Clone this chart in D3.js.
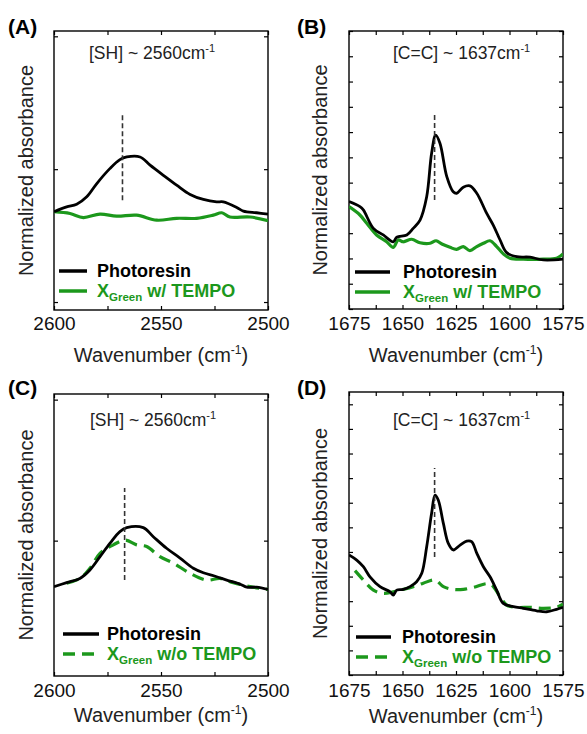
<!DOCTYPE html>
<html>
<head>
<meta charset="utf-8">
<script src="https://cdn.jsdelivr.net/npm/d3@7"></script>
<style>
  body { margin: 0; background: #fff; }
  svg { font-family: Arial, "Liberation Sans", sans-serif; }
</style>
</head>
<body>
<div class="canva"></div>
<script>
// ---- data ----
// (A) SH region, photoresin vs X_Green w/ TEMPO
const wnA_photo = [2600, 2594.1, 2589.4, 2584.7, 2580, 2573.8, 2569.2, 2566, 2559.8, 2555.1, 2548.9, 2542.7, 2536.4, 2530.2, 2524, 2520.9, 2514.6, 2511.5, 2505.3, 2500];
const absA_photo = [0.340, 0.358, 0.368, 0.396, 0.446, 0.503, 0.536, 0.546, 0.546, 0.515, 0.477, 0.440, 0.405, 0.386, 0.377, 0.377, 0.356, 0.342, 0.336, 0.331];
const wnA_green = [2600, 2592.5, 2586.3, 2578.5, 2570.7, 2561.4, 2552, 2542.7, 2533.3, 2525.6, 2521.6, 2517.8, 2508.4, 2500];
const absA_green = [0.340, 0.333, 0.318, 0.331, 0.323, 0.327, 0.308, 0.315, 0.315, 0.327, 0.336, 0.320, 0.320, 0.306];

// (B) C=C region, photoresin vs X_Green w/ TEMPO
const wnB_photo = [1675, 1669.9, 1668.3, 1663.6, 1659, 1654.3, 1652.7, 1648, 1645, 1641.8, 1638.7, 1636.4, 1634.5, 1632.5, 1629.3, 1626.3, 1624.7, 1621.6, 1618.5, 1615.3, 1610.7, 1607.6, 1604.4, 1601.3, 1596.6, 1590.4, 1584.2, 1575];
const absB_photo = [0.425, 0.405, 0.392, 0.319, 0.293, 0.266, 0.284, 0.293, 0.319, 0.352, 0.444, 0.616, 0.688, 0.656, 0.524, 0.464, 0.458, 0.482, 0.487, 0.458, 0.379, 0.332, 0.273, 0.223, 0.207, 0.205, 0.194, 0.197];
const wnB_green = [1675, 1669.9, 1666.7, 1662.1, 1657.4, 1654.3, 1652, 1649.6, 1645.7, 1641.8, 1637.1, 1634.3, 1631.6, 1627.8, 1624.7, 1621.6, 1618.5, 1615.3, 1612.2, 1609.1, 1606, 1602.9, 1599.8, 1593.6, 1584.2, 1578, 1575];
const absB_green = [0.405, 0.372, 0.339, 0.293, 0.266, 0.244, 0.273, 0.266, 0.276, 0.262, 0.260, 0.270, 0.257, 0.244, 0.236, 0.247, 0.231, 0.247, 0.260, 0.270, 0.247, 0.218, 0.201, 0.197, 0.197, 0.201, 0.218];

// (C) SH region, photoresin vs X_Green w/o TEMPO
const wnC_photo = [2600, 2594.1, 2587.9, 2583.2, 2578.5, 2573.8, 2569.2, 2566, 2558.3, 2553.6, 2547.4, 2541.1, 2534.9, 2530.2, 2524, 2519.3, 2513.1, 2509.9, 2505.3, 2500];
const absC_photo = [0.337, 0.351, 0.366, 0.396, 0.443, 0.491, 0.532, 0.546, 0.546, 0.514, 0.473, 0.438, 0.402, 0.386, 0.372, 0.360, 0.346, 0.335, 0.335, 0.327];
const wnC_green = [2594.1, 2587.9, 2583.2, 2578.5, 2572.3, 2566.8, 2561.4, 2556.7, 2550.5, 2544.2, 2536.4, 2528.6, 2522.4, 2516.2, 2508.4, 2500];
const absC_green = [0.349, 0.366, 0.402, 0.455, 0.485, 0.502, 0.485, 0.479, 0.443, 0.420, 0.384, 0.360, 0.366, 0.351, 0.337, 0.327];

// (D) C=C region, photoresin vs X_Green w/o TEMPO
const wnD_photo = [1675, 1671.4, 1668.3, 1665.2, 1660.5, 1655.8, 1654.3, 1652.7, 1649.6, 1646.5, 1643.4, 1641, 1638.7, 1636.4, 1634.8, 1633.3, 1630.9, 1628.6, 1626.3, 1623.1, 1620, 1617.7, 1615.3, 1612.2, 1609.1, 1606, 1602.9, 1598.2, 1593.6, 1587.3, 1582.6, 1578, 1575];
const absD_photo = [0.488, 0.467, 0.440, 0.399, 0.359, 0.338, 0.325, 0.345, 0.348, 0.359, 0.379, 0.413, 0.521, 0.657, 0.731, 0.711, 0.616, 0.535, 0.508, 0.528, 0.544, 0.542, 0.495, 0.440, 0.399, 0.345, 0.291, 0.278, 0.271, 0.261, 0.257, 0.267, 0.275];
const wnD_green = [1672.2, 1668.3, 1663.6, 1659, 1654.3, 1649.6, 1645, 1640.3, 1634.8, 1630.9, 1626.3, 1621.6, 1616.9, 1609.1, 1604.4, 1601.3, 1596.6, 1590.4, 1584.2, 1578, 1575];
const absD_green = [0.424, 0.386, 0.345, 0.332, 0.338, 0.348, 0.359, 0.373, 0.386, 0.359, 0.348, 0.348, 0.356, 0.370, 0.318, 0.284, 0.275, 0.275, 0.271, 0.275, 0.288];

// peak marker (dashed) position and extent
const markerWn = [2568, 1635, 2567, 1635];
const markerAbs = [[0.383, 0.711], [0.431, 0.777], [0.360, 0.687], [0.479, 0.841]];

// text
const panelLabels = ['(A)', '(B)', '(C)', '(D)'];
const peakNames = ['[SH] ~ 2560cm', '[C=C] ~ 1637cm', '[SH] ~ 2560cm', '[C=C] ~ 1637cm'];
const seriesNames = ['Photoresin', 'X', 'Green'];
const greenSuffix = [' w/ TEMPO', ' w/ TEMPO', ' w/o TEMPO', ' w/o TEMPO'];
const shTicks = [2600, 2575, 2550, 2525, 2500];
const shLabels = [2600, 2550, 2500];
const ccTicks = [1675, 1662.5, 1650, 1637.5, 1625, 1612.5, 1600, 1587.5, 1575];
const ccLabels = [1675, 1650, 1625, 1600, 1575];

const GREEN = '#1c981c';

const zip = (xs, ys) => xs.map((x, i) => [x, ys[i]]);

// panel layout (pixels)
const panels = [
  {box: [54, 268, 31, 310], xd: [2600, 2500], yd: [-0.03, 1.02], yt: [0, 0.5, 1], xt: shTicks, xl: shLabels,
   photo: zip(wnA_photo, absA_photo), green: zip(wnA_green, absA_green), dashed: false,
   lab: [8, 34], peak: [89, 59], leg: [59, 87, 97, 271, 291], ytitle: 33, xtitleY: 362, tickY: 330},
  {box: [349, 563, 31, 309], xd: [1675, 1575], yd: [0, 1.1], yt: d3.range(0, 1.11, 0.1), xt: ccTicks, xl: ccLabels,
   photo: zip(wnB_photo, absB_photo), green: zip(wnB_green, absB_green), dashed: false,
   lab: [297, 34], peak: [393, 59], leg: [355, 390, 403, 272, 292], ytitle: 327, xtitleY: 362, tickY: 330},
  {box: [54, 268, 394, 676], xd: [2600, 2500], yd: [0.02, 1.02], yt: [0.5, 1], xt: shTicks, xl: shLabels,
   photo: zip(wnC_photo, absC_photo), green: zip(wnC_green, absC_green), dashed: true,
   lab: [8, 395], peak: [90, 426], leg: [63, 99, 107, 634, 654], ytitle: 33, xtitleY: 722, tickY: 697},
  {box: [349, 563, 392, 675], xd: [1675, 1575], yd: [0, 1.15], yt: d3.range(0, 1.11, 0.1), xt: ccTicks, xl: ccLabels,
   photo: zip(wnD_photo, absD_photo), green: zip(wnD_green, absD_green), dashed: true,
   lab: [297, 395], peak: [393, 426], leg: [356, 391, 402, 637, 657], ytitle: 327, xtitleY: 723, tickY: 697}
];

const svg = d3.select('.canva').append('svg')
  .attr('width', 587)
  .attr('height', 734);

panels.forEach((p, i) => {
  const [x0, x1, y0, y1] = p.box;
  const x = d3.scaleLinear().domain(p.xd).range([x0, x1]);
  const y = d3.scaleLinear().domain(p.yd).range([y1, y0]);
  const g = svg.append('g');

  // clip for curves
  g.append('clipPath').attr('id', 'clip' + i)
    .append('rect').attr('x', x0).attr('y', y0).attr('width', x1 - x0).attr('height', y1 - y0);

  // axes with inward ticks on all four sides
  const fmt = d => p.xl.includes(d) ? d : '';
  g.append('g').attr('transform', `translate(0,${y1})`)
    .call(d3.axisBottom(x).tickValues(p.xt).tickSize(-4).tickPadding(8).tickFormat(fmt))
    .call(a => a.selectAll('text').attr('font-size', 19).attr('fill', '#111').attr('y', p.tickY - y1).attr('dy', 0));
  g.append('g').attr('transform', `translate(0,${y0})`)
    .call(d3.axisTop(x).tickValues(p.xt).tickSize(-4).tickFormat(''));
  g.append('g').attr('transform', `translate(${x0},0)`)
    .call(d3.axisLeft(y).tickValues(p.yt).tickSize(-4).tickFormat(''));
  g.append('g').attr('transform', `translate(${x1},0)`)
    .call(d3.axisRight(y).tickValues(p.yt).tickSize(-4).tickFormat(''));
  g.selectAll('.domain').remove();
  g.selectAll('.tick line').attr('stroke', '#000').attr('stroke-width', 1.2);

  g.append('rect')
    .attr('x', x0).attr('y', y0).attr('width', x1 - x0).attr('height', y1 - y0)
    .attr('fill', 'none').attr('stroke', '#000').attr('stroke-width', 1.4);

  // curves
  const line = d3.line().x(d => x(d[0])).y(d => y(d[1])).curve(d3.curveCatmullRom.alpha(0.5));
  g.append('path').datum(p.green)
    .attr('d', line).attr('clip-path', `url(#clip${i})`)
    .attr('fill', 'none').attr('stroke', GREEN).attr('stroke-width', 3.2)
    .attr('stroke-dasharray', p.dashed ? '12,7' : null);
  g.append('path').datum(p.photo)
    .attr('d', line).attr('clip-path', `url(#clip${i})`)
    .attr('fill', 'none').attr('stroke', '#000').attr('stroke-width', 2.8);

  // peak marker
  g.append('line')
    .attr('x1', x(markerWn[i])).attr('x2', x(markerWn[i]))
    .attr('y1', y(markerAbs[i][0])).attr('y2', y(markerAbs[i][1]))
    .attr('stroke', '#333').attr('stroke-width', 1.6).attr('stroke-dasharray', '5,3');

  // panel label
  svg.append('text').attr('x', p.lab[0]).attr('y', p.lab[1])
    .attr('font-size', 21).attr('font-weight', 'bold').text(panelLabels[i]);

  // peak annotation
  const pk = svg.append('text').attr('x', p.peak[0]).attr('y', p.peak[1]).attr('font-size', 17.5).attr('fill', '#222');
  pk.append('tspan').text(peakNames[i]);
  pk.append('tspan').attr('font-size', 11).attr('dy', -7).text('-1');

  // axis titles
  svg.append('text')
    .attr('transform', `translate(${p.ytitle},${(y0 + y1) / 2}) rotate(-90)`)
    .attr('text-anchor', 'middle').attr('font-size', 20).attr('fill', '#222')
    .text('Normalized absorbance');
  const xt = svg.append('text')
    .attr('x', (x0 + x1) / 2).attr('y', p.xtitleY)
    .attr('text-anchor', 'middle').attr('font-size', 20).attr('fill', '#222');
  xt.append('tspan').text('Wavenumber (cm');
  xt.append('tspan').attr('font-size', 12).attr('dy', -8).text('-1');
  xt.append('tspan').attr('dy', 8).text(')');

  // legend
  const [lx0, lx1, tx, ly1, ly2] = p.leg;
  svg.append('line').attr('x1', lx0).attr('x2', lx1).attr('y1', ly1).attr('y2', ly1)
    .attr('stroke', '#000').attr('stroke-width', 3.5);
  svg.append('text').attr('x', tx).attr('y', ly1 + 6).attr('font-size', 18).attr('font-weight', 'bold')
    .text(seriesNames[0]);
  svg.append('line').attr('x1', lx0).attr('x2', lx1).attr('y1', ly2).attr('y2', ly2)
    .attr('stroke', GREEN).attr('stroke-width', 3.5)
    .attr('stroke-dasharray', p.dashed ? '12,7' : null);
  const gt = svg.append('text').attr('x', tx).attr('y', ly2 + 6).attr('font-size', 18)
    .attr('font-weight', 'bold').attr('fill', GREEN);
  gt.append('tspan').text(seriesNames[1]);
  gt.append('tspan').attr('font-size', 11.5).attr('dy', 4).text(seriesNames[2]);
  gt.append('tspan').attr('dy', -4).text(greenSuffix[i]);
});
</script>
</body>
</html>
